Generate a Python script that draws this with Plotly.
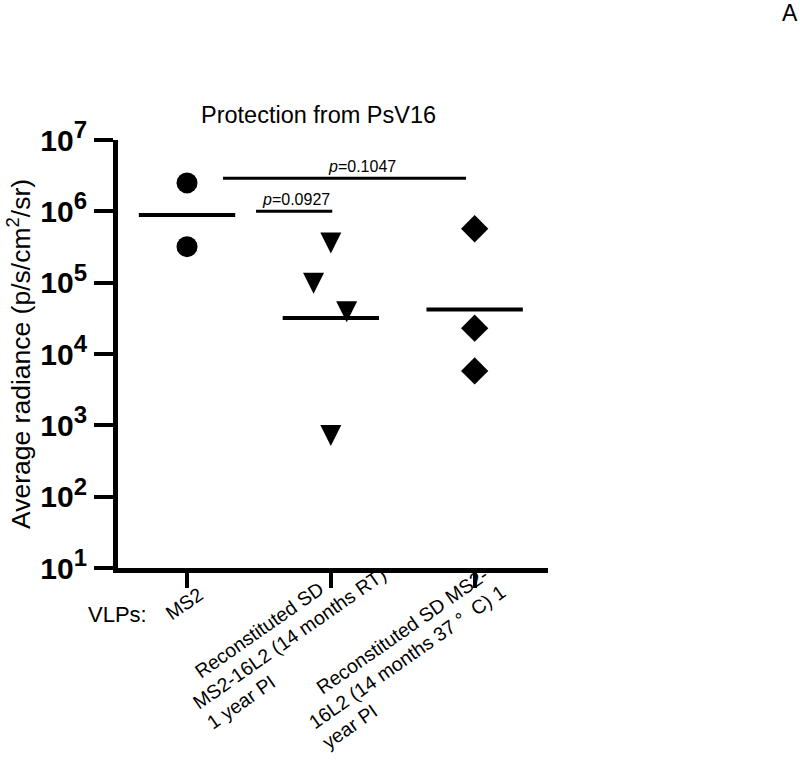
import math
import plotly.graph_objects as go

# ---- data ----
categories = [
    ["MS2"],
    ["Reconstituted SD", "MS2-16L2 (14 months RT)", "1 year PI"],
    ["Reconstituted SD MS2-", "16L2 (14 months 37 °  C) 1", "year PI"],
]
ms2_values = [2.5e6, 3.2e5]
rt_values = [3.6e5, 9.8e4, 3.9e4, 7.2e2]
rt_jitter = [0.0, -0.12, 0.11, 0.0]
c37_values = [5.7e5, 2.3e4, 5.8e3]
group_means = [8.9e5, 3.2e4, 4.2e4]
y_tickvals = [1e1, 1e2, 1e3, 1e4, 1e5, 1e6, 1e7]
y_exponents = ["1", "2", "3", "4", "5", "6", "7"]
comparisons = [
    {"x0": 0.25, "x1": 1.94, "y": 2.9e6, "label": "<i>p</i>=0.1047", "tx": 1.22},
    {"x0": 0.48, "x1": 1.01, "y": 1.0e6, "label": "<i>p</i>=0.0927", "tx": 0.755},
]

# ---- label layout (pixels): start of the "main" line relative to the tick, indents ----
ANGLE = 35.0
LINE_GAP = 24.5
label_anchor = [(-19, 54), (-135, 143), (-163, 163)]   # (dx from tick, dy below axis)
label_main_line = [0, 1, 1]
label_indent = [[0], [19, 0, 0], [26, 0, 0]]

FONT = "Liberation Sans, Arial, sans-serif"
y_ticktext = ["10<sup><span style='font-size:24px'>%s</span></sup>" % e for e in y_exponents]

fig = go.Figure()

# points
fig.add_trace(go.Scatter(x=[0] * len(ms2_values), y=ms2_values, mode="markers",
                         marker=dict(symbol="circle", size=21, color="black"),
                         showlegend=False))
fig.add_trace(go.Scatter(x=[1 + j for j in rt_jitter], y=rt_values, mode="markers",
                         marker=dict(symbol="arrow-down", size=21, color="black",
                                     standoff=10.5, line=dict(width=0)),
                         showlegend=False))
fig.add_trace(go.Scatter(x=[2] * len(c37_values), y=c37_values, mode="markers",
                         marker=dict(symbol="diamond", size=21, color="black"),
                         showlegend=False))

# mean lines
for i, m in enumerate(group_means):
    fig.add_trace(go.Scatter(x=[i - 0.335, i + 0.335], y=[m, m], mode="lines",
                             line=dict(color="black", width=4), showlegend=False,
                             hoverinfo="skip"))

# significance bars
for c in comparisons:
    fig.add_trace(go.Scatter(x=[c["x0"], c["x1"]], y=[c["y"], c["y"]], mode="lines",
                             line=dict(color="black", width=3), showlegend=False,
                             hoverinfo="skip"))
    fig.add_annotation(x=c["tx"], y=math.log10(c["y"]), xref="x", yref="y",
                       text=c["label"], showarrow=False, yanchor="bottom", yshift=1,
                       font=dict(family=FONT, size=16, color="black"))

# x category labels (rotated, one annotation per line, left aligned)
a = math.radians(ANGLE)
dir_v = (math.cos(a), -math.sin(a))
perp_v = (math.sin(a), math.cos(a))
for i, lines in enumerate(categories):
    ax0, ay0 = label_anchor[i]
    for k, txt in enumerate(lines):
        n = k - label_main_line[i]
        ind = label_indent[i][k]
        sx = ax0 + n * LINE_GAP * perp_v[0] + ind * dir_v[0]
        sy = ay0 + n * LINE_GAP * perp_v[1] + ind * dir_v[1]
        fig.add_annotation(x=i, y=0, xref="x", yref="paper", text=txt, showarrow=False,
                           textangle=-ANGLE, xanchor="left", yanchor="bottom",
                           xshift=sx - 10, yshift=-(sy + 5),
                           font=dict(family=FONT, size=19.5, color="black"))

fig.add_annotation(x=0, y=0, xref="paper", yref="paper", text="VLPs:", showarrow=False,
                   xanchor="center", yanchor="middle", xshift=-1, yshift=-46,
                   font=dict(family=FONT, size=22, color="black"))

# y title
fig.add_annotation(x=0, y=0.5, xref="paper", yref="paper",
                   text="Average radiance (p/s/cm<sup>2</sup>/sr)", showarrow=False,
                   textangle=-90, xanchor="center", yanchor="middle", xshift=-99,
                   font=dict(family=FONT, size=26.5, color="black"))

# title
fig.add_annotation(x=0.5, y=1, xref="paper", yref="paper", text="Protection from PsV16",
                   showarrow=False, xanchor="center", yanchor="middle", yshift=25,
                   xshift=-15, font=dict(family=FONT, size=23.5, color="black"))

# panel letter
fig.add_annotation(x=1.5628, y=1.297, xref="paper", yref="paper", text="A",
                   showarrow=False, xanchor="center", yanchor="middle",
                   font=dict(family=FONT, size=23, color="black"))

fig.update_layout(
    width=800, height=763,
    margin=dict(l=118, r=252, t=140, b=195),
    plot_bgcolor="white", paper_bgcolor="white",
    showlegend=False,
)
fig.update_xaxes(range=[-0.48, 2.51], tickvals=[0, 1, 2], ticktext=["", "", ""],
                 showgrid=False, zeroline=False, showline=True, linecolor="black",
                 linewidth=5, ticks="outside", ticklen=15, tickwidth=4, tickcolor="black")
fig.update_yaxes(type="log", range=[1, 7], tickvals=y_tickvals, ticktext=y_ticktext,
                 showgrid=False, zeroline=False, showline=True, linecolor="black",
                 linewidth=5, ticks="outside", ticklen=19, tickwidth=4, tickcolor="black",
                 ticklabelstandoff=1,
                 tickfont=dict(family=FONT, size=30, color="black", weight="bold"))

# remove the page's default 8px body margin so the figure fills the window exactly
fig.write_html("out.html", config={"displayModeBar": False},
               post_script="document.body.style.margin='0';document.body.style.overflow='hidden';")
